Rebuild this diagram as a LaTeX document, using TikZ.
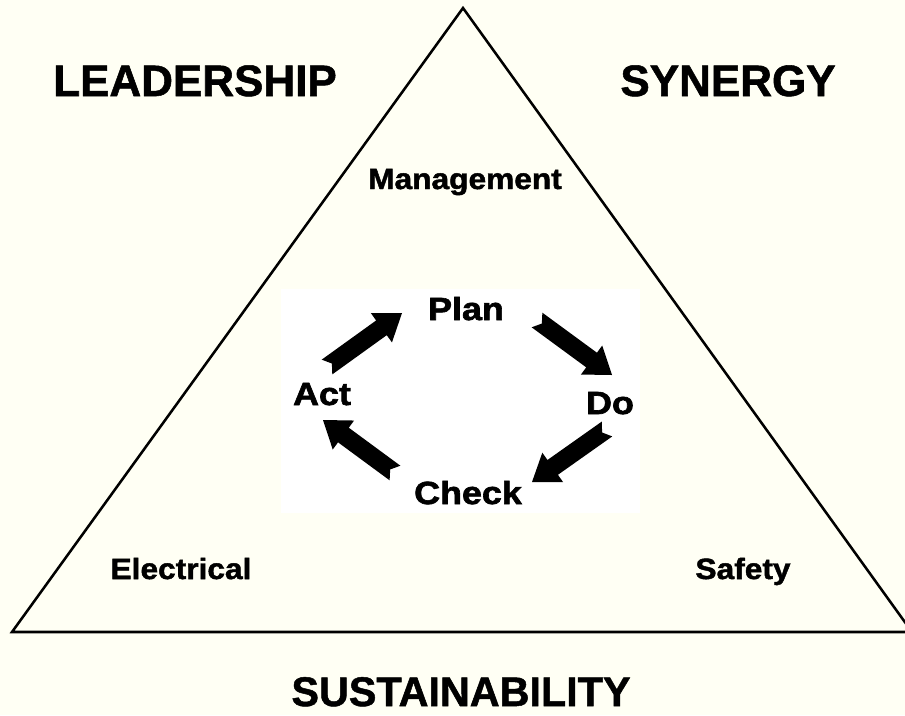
\documentclass[tikz,border=0pt]{standalone}
\usepackage{fontspec}
\setmainfont{Liberation Sans}[BoldFeatures={FakeBold=1.2}]
\newfontfamily\pdcafont{Liberation Sans}[FakeStretch=1.12, BoldFeatures={FakeBold=2}]
\newfontfamily\areafont{Liberation Sans}[FakeStretch=1.08, BoldFeatures={FakeBold=1.6}]
\usetikzlibrary{calc}

\definecolor{paper}{RGB}{255,255,244}

\tikzset{every picture/.style={line width=0.75pt},
  big/.style={font=\bfseries\fontsize{33}{36}\selectfont, anchor=base},
  pdca/.style={font=\pdcafont\bfseries\fontsize{24}{27}\selectfont, anchor=base},
  area/.style={font=\areafont\bfseries\fontsize{22}{25}\selectfont, anchor=base},
  tri/.style={line width=1.9pt, line join=miter}}

% notched block arrow from #1 (tail) to #2 (tip)
\newcommand{\notcharrow}[2]{%
  \coordinate (nb) at ($(#2)!19pt!(#1)$);
  \fill (#2) -- ($(nb)!13.5pt!90:(#2)$) -- ($(nb)!6.8pt!90:(#2)$)
    -- ($(#1)!6.8pt!90:(#2)$) -- ($(#1)!4.5pt!(#2)$)
    -- ($(#1)!6.8pt!-90:(#2)$) -- ($(nb)!6.8pt!-90:(#2)$)
    -- ($(nb)!13.5pt!-90:(#2)$) -- cycle;}

\begin{document}
\begin{tikzpicture}[x=0.75pt,y=0.75pt,yscale=-1,xscale=1]
		\clip (0,0) rectangle (905,715);
		\fill [paper] (0,0) rectangle (905,715);
		
		%Triangle
		\draw [tri] (463,8) -- (12,632) -- (912,632) -- cycle;
		
		%White panel behind the cycle
		\fill [white] (281,289) rectangle (640,513);
		
		% Text Node
		\node [big] (lead) at (195,96) {LEADERSHIP};
		% Text Node
		\node [big] (syn) at (728,96) {SYNERGY};
		% Text Node
		\node [big, font=\bfseries\fontsize{31}{34}\selectfont] (sust) at (461,706) {SUSTAINABILITY};
		% Text Node
		\node [area] (mgmt) at (465,189) {Management};
		% Text Node
		\node [area] (elec) at (181,579) {Electrical};
		% Text Node
		\node [area] (safe) at (743,579) {Safety};
		
		% Text Node
		\node [pdca] (plan) at (466,320) {Plan};
		% Text Node
		\node [pdca] (do) at (610,414) {Do};
		% Text Node
		\node [pdca] (check) at (468,504) {Check};
		% Text Node
		\node [pdca] (act) at (322,405) {Act};
		
		%Arrow ends
		\coordinate (planT) at (537,320);
		\coordinate (doH) at (612,375);
		\coordinate (doT) at (607,429);
		\coordinate (checkH) at (532,482);
		\coordinate (checkT) at (395,473);
		\coordinate (actH) at (323,420);
		\coordinate (actT) at (327,367);
		\coordinate (planH) at (402,313);
		
		%Block arrows
		\notcharrow{planT}{doH}
		\notcharrow{doT}{checkH}
		\notcharrow{checkT}{actH}
		\notcharrow{actT}{planH}
		
\end{tikzpicture}
\end{document}
